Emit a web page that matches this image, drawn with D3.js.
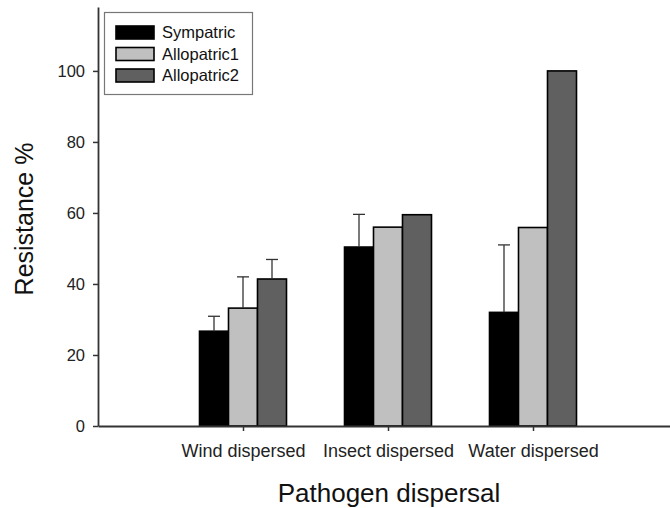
<!DOCTYPE html>
<html>
<head>
<meta charset="utf-8">
<script src="https://cdn.jsdelivr.net/npm/d3@7"></script>
<style>
  body { margin: 0; background: #fff; }
  svg { display: block; }
</style>
</head>
<body>
<div id="chart"></div>
<script>
// data
const categories = ['Wind dispersed', 'Insect dispersed', 'Water dispersed'];
const seriesNames = ['Sympatric', 'Allopatric1', 'Allopatric2'];
const sympatric   = [26.7, 50.4, 32.0];
const allopatric1 = [33.2, 56.0, 55.9];
const allopatric2 = [41.4, 59.5, 100];
// upper error (bar top + error), null = no bar
const sympatricErr   = [30.9, 59.6, 51.0];
const allopatric1Err = [42.0, null, null];
const allopatric2Err = [46.9, null, null];
const yTicks = [0, 20, 40, 60, 80, 100];

const fills = ['#000000', '#c0c0c0', '#606060'];
const W = 670, H = 508;
const FONT = 'Liberation Sans, Arial, sans-serif';

const x = d3.scaleLinear().domain([0, 4]).range([98, 678]);
const y = d3.scaleLinear().domain([0, 118]).range([426, 7]);
const barW = 0.2;

const values = [sympatric, allopatric1, allopatric2];
const errs = [sympatricErr, allopatric1Err, allopatric2Err];
const bars = [];
values.forEach((vals, s) => vals.forEach((v, i) => bars.push({
  s, i, v, e: errs[s][i], x0: i + 1 - 0.3 + s * barW
})));

const svg = d3.select('#chart').append('svg').attr('width', W).attr('height', H);

// bars
svg.append('g').selectAll('rect').data(bars).join('rect')
  .attr('x', d => x(d.x0)).attr('y', d => y(d.v))
  .attr('width', x(barW) - x(0)).attr('height', d => y(0) - y(d.v))
  .attr('fill', d => fills[d.s]).attr('stroke', '#000').attr('stroke-width', 1.6);

// error bars (upper only)
const eg = svg.append('g').attr('stroke', '#333').attr('stroke-width', 1.3);
bars.filter(d => d.e != null).forEach(d => {
  const cx = x(d.x0 + barW / 2);
  eg.append('line').attr('x1', cx).attr('x2', cx).attr('y1', y(d.v)).attr('y2', y(d.e));
  eg.append('line').attr('x1', cx - 6).attr('x2', cx + 6).attr('y1', y(d.e)).attr('y2', y(d.e));
});

// axes
const yAxis = svg.append('g').attr('transform', `translate(${x(0)},0)`)
  .call(d3.axisLeft(y).tickValues(yTicks).tickSize(5).tickPadding(8).tickSizeOuter(0));
const xAxis = svg.append('g').attr('transform', `translate(0,${y(0)})`)
  .call(d3.axisBottom(x).tickValues([1, 2, 3]).tickFormat(d => categories[d - 1])
    .tickSize(5).tickPadding(13).tickSizeOuter(0));
[yAxis, xAxis].forEach(a => {
  a.select('.domain').attr('stroke', '#333').attr('stroke-width', 1.8);
  a.selectAll('.tick line').attr('stroke', '#333').attr('stroke-width', 1.5);
  a.selectAll('text').attr('fill', '#222').attr('font-family', FONT);
});
yAxis.selectAll('text').attr('font-size', 16.5);
xAxis.selectAll('text').attr('font-size', 18);

// axis titles
svg.append('text').attr('transform', 'translate(33,219) rotate(-90)')
  .attr('text-anchor', 'middle').attr('font-family', FONT).attr('font-size', 25)
  .attr('fill', '#111').text('Resistance %');
svg.append('text').attr('x', 389).attr('y', 502)
  .attr('text-anchor', 'middle').attr('font-family', FONT).attr('font-size', 26)
  .attr('fill', '#111').text('Pathogen dispersal');

// legend
const lg = svg.append('g');
lg.append('rect').attr('x', 104.5).attr('y', 12.5).attr('width', 148).attr('height', 82)
  .attr('fill', '#fff').attr('stroke', '#777').attr('stroke-width', 1.2);
seriesNames.forEach((n, s) => {
  const ry = 26 + s * 21.5;
  lg.append('rect').attr('x', 116).attr('y', ry).attr('width', 38).attr('height', 13)
    .attr('fill', fills[s]).attr('stroke', '#000').attr('stroke-width', 1.6);
  lg.append('text').attr('x', 162).attr('y', ry + 12).attr('font-family', FONT)
    .attr('font-size', 16.5).attr('fill', '#111').text(n);
});
</script>
</body>
</html>
